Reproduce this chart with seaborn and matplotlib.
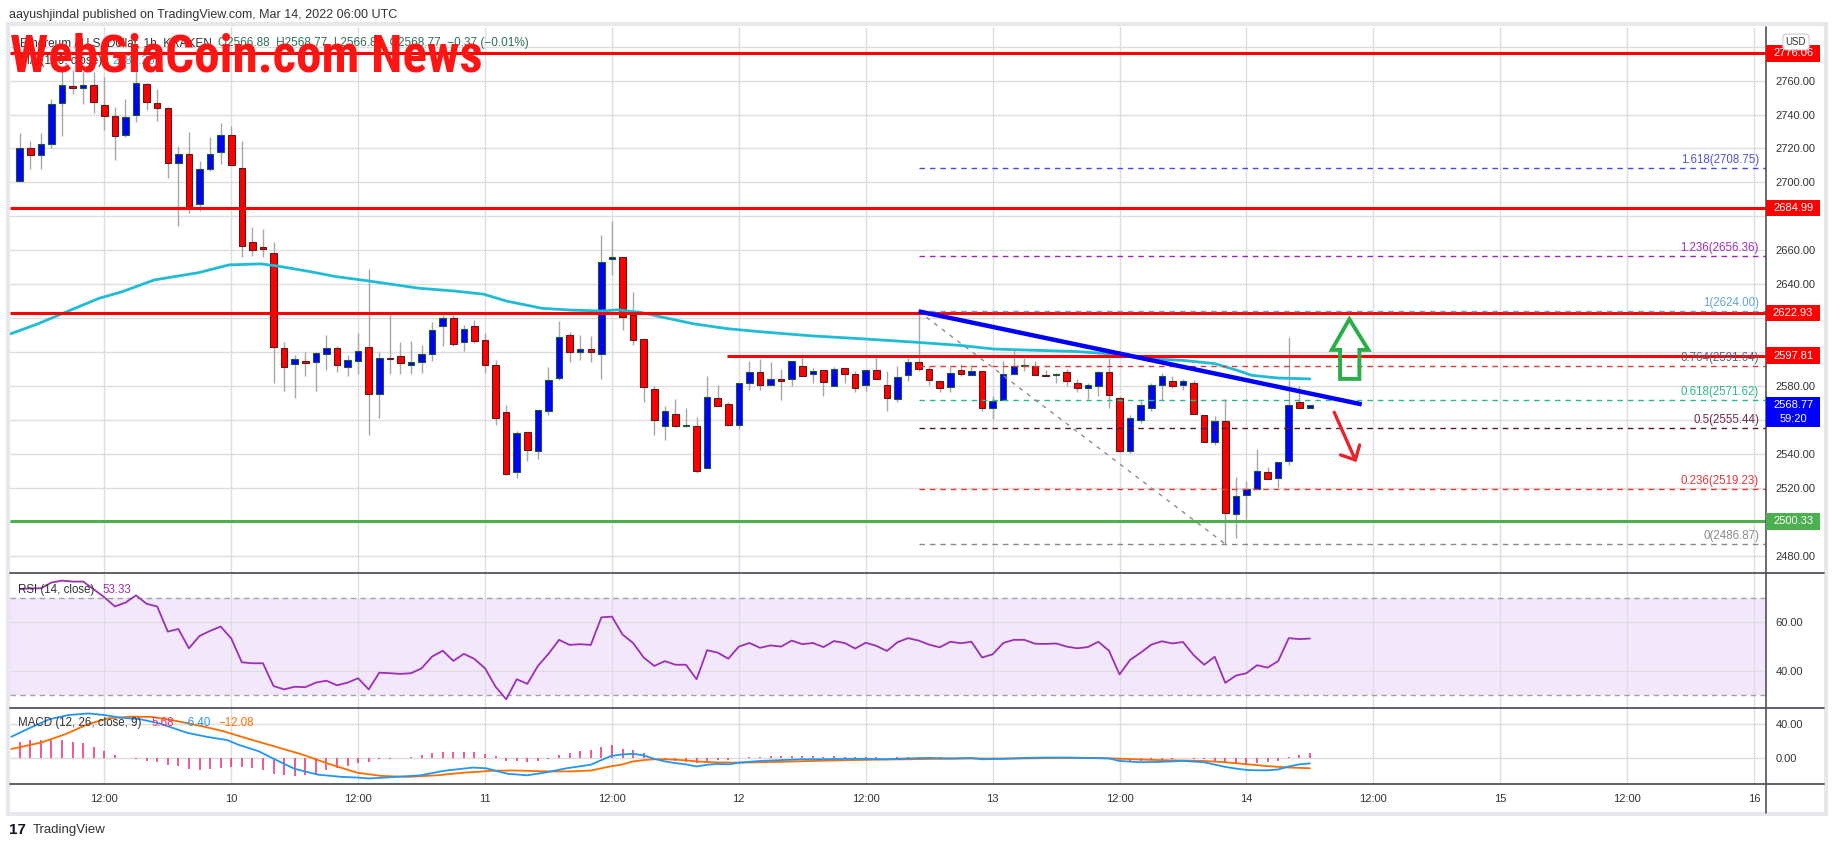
import numpy as np
import matplotlib
matplotlib.use("Agg")
import matplotlib.pyplot as plt
import matplotlib.patches as mpatches
import matplotlib.transforms as mtransforms
from matplotlib.lines import Line2D
from matplotlib.ticker import FixedFormatter
from matplotlib import font_manager
import seaborn as sns

# ETH/USD 1h candles, x = hours counted from 2022-03-09 00:00 UTC
hours = list(range(4, 127))
opens = [2700.6, 2720.4, 2716.1, 2722.4, 2746.7, 2756.9, 2755.9, 2757.6, 2745.9, 2739.4,
         2727.7, 2740.0, 2758.0, 2747.0, 2743.9, 2711.2, 2716.9, 2687.3, 2707.7, 2717.7,
         2728.2, 2708.6, 2664.7, 2661.8, 2658.3, 2602.4, 2593.0, 2595.0, 2594.2, 2598.9,
         2602.4, 2591.2, 2594.7, 2603.0, 2575.1, 2596.5, 2597.7, 2592.2, 2594.2, 2598.9,
         2615.3, 2620.0, 2605.9, 2615.3, 2607.1, 2592.4, 2564.8, 2529.5, 2553.0, 2541.6,
         2565.3, 2584.6, 2610.0, 2599.8, 2601.8, 2598.9, 2654.7, 2655.9, 2621.8, 2607.5,
         2578.3, 2556.5, 2563.6, 2556.5, 2556.5, 2531.8, 2573.0, 2569.5, 2556.9, 2581.8,
         2588.3, 2580.6, 2584.4, 2584.1, 2591.8, 2587.3, 2589.4, 2580.0, 2590.6, 2587.1,
         2580.6, 2589.4, 2580.6, 2572.4, 2586.3, 2594.1, 2590.0, 2583.0, 2579.4, 2589.4,
         2586.5, 2588.8, 2567.1, 2572.0, 2587.3, 2591.8, 2591.8, 2586.5, 2586.7, 2588.3,
         2581.6, 2578.9, 2580.2, 2588.3, 2573.2, 2541.8, 2559.7, 2567.1, 2580.4, 2583.0,
         2580.4, 2581.6, 2563.0, 2547.1, 2559.4, 2504.8, 2515.9, 2519.5, 2529.5, 2525.9,
         2535.7, 2570.4, 2566.88]
highs = [2729.0, 2724.7, 2729.0, 2749.2, 2766.0, 2766.0, 2765.9, 2764.9, 2762.0, 2744.3,
         2749.2, 2765.9, 2758.4, 2754.9, 2744.7, 2721.4, 2729.6, 2712.4, 2726.7, 2734.9,
         2733.5, 2724.3, 2673.8, 2672.8, 2664.9, 2605.9, 2598.5, 2599.8, 2600.0, 2610.2,
         2603.8, 2598.5, 2611.2, 2649.0, 2600.0, 2623.0, 2605.9, 2606.7, 2604.4, 2617.7,
         2622.0, 2621.6, 2616.1, 2618.9, 2611.0, 2595.5, 2569.1, 2553.4, 2553.0, 2566.0,
         2591.4, 2618.5, 2611.8, 2610.2, 2609.3, 2669.0, 2677.3, 2656.0, 2635.5, 2607.5,
         2579.9, 2568.3, 2572.4, 2567.1, 2561.6, 2586.1, 2580.8, 2570.6, 2581.8, 2595.0,
         2596.1, 2594.2, 2590.0, 2594.7, 2599.0, 2590.6, 2589.4, 2591.2, 2590.6, 2588.6,
         2589.4, 2597.5, 2588.6, 2591.6, 2596.5, 2624.0, 2591.6, 2583.0, 2591.6, 2593.1,
         2592.6, 2588.8, 2573.9, 2594.9, 2601.0, 2596.5, 2594.9, 2589.6, 2587.5, 2590.0,
         2584.0, 2581.6, 2589.0, 2596.7, 2574.0, 2563.0, 2571.0, 2582.0, 2587.7, 2585.9,
         2584.3, 2583.7, 2563.0, 2562.2, 2572.6, 2526.5, 2524.0, 2543.0, 2532.4, 2535.3,
         2608.8, 2579.8, 2568.77]
lows = [2700.0, 2708.0, 2708.0, 2720.4, 2727.3, 2752.2, 2746.3, 2740.8, 2730.6, 2713.4,
        2727.0, 2735.5, 2742.4, 2736.1, 2702.8, 2674.5, 2682.2, 2683.0, 2706.7, 2711.0,
        2710.0, 2656.1, 2656.5, 2656.0, 2581.8, 2576.9, 2572.8, 2585.7, 2576.9, 2589.7,
        2588.1, 2585.7, 2587.3, 2551.0, 2561.0, 2586.9, 2586.9, 2586.9, 2587.7, 2594.5,
        2603.4, 2603.4, 2600.8, 2605.5, 2587.7, 2557.3, 2527.3, 2526.0, 2535.8, 2536.7,
        2563.2, 2583.8, 2594.0, 2595.5, 2594.0, 2584.4, 2645.5, 2613.2, 2604.0, 2570.6,
        2551.0, 2548.1, 2555.7, 2555.7, 2528.5, 2531.8, 2568.3, 2556.3, 2554.6, 2577.9,
        2577.9, 2580.6, 2571.6, 2580.2, 2585.9, 2581.8, 2573.9, 2580.0, 2581.8, 2576.3,
        2576.9, 2584.1, 2565.1, 2570.4, 2583.2, 2589.0, 2580.8, 2576.3, 2576.3, 2585.7,
        2586.5, 2565.1, 2560.6, 2572.0, 2587.3, 2588.6, 2586.5, 2585.7, 2581.6, 2580.2,
        2576.5, 2572.2, 2574.0, 2567.3, 2541.2, 2540.5, 2558.0, 2565.0, 2572.0, 2578.7,
        2577.5, 2563.6, 2547.1, 2545.1, 2486.87, 2490.6, 2501.4, 2519.5, 2525.3, 2520.2,
        2533.4, 2566.5, 2566.88]
closes = [2720.4, 2716.1, 2722.4, 2746.3, 2757.6, 2755.9, 2757.6, 2747.3, 2739.4, 2727.1,
          2738.8, 2758.8, 2747.6, 2744.1, 2711.2, 2716.9, 2685.3, 2708.0, 2716.9, 2728.2,
          2710.0, 2662.4, 2660.0, 2660.6, 2603.0, 2591.2, 2595.9, 2593.6, 2599.4, 2602.4,
          2592.4, 2595.1, 2600.6, 2575.1, 2596.5, 2595.7, 2593.4, 2594.2, 2598.9, 2613.0,
          2620.0, 2604.7, 2613.6, 2606.3, 2592.4, 2561.0, 2527.9, 2552.4, 2542.2, 2565.6,
          2583.6, 2608.9, 2599.8, 2601.8, 2599.8, 2653.0, 2655.9, 2620.6, 2607.1, 2579.5,
          2560.0, 2565.3, 2556.5, 2556.5, 2530.0, 2573.6, 2568.3, 2556.9, 2581.8, 2588.3,
          2580.6, 2584.0, 2582.8, 2594.7, 2585.9, 2588.8, 2582.4, 2590.0, 2587.1, 2578.8,
          2589.4, 2584.1, 2573.0, 2585.3, 2594.1, 2589.8, 2583.5, 2578.8, 2587.7, 2587.1,
          2588.8, 2567.1, 2571.0, 2586.9, 2591.8, 2591.8, 2586.5, 2586.1, 2586.7, 2583.2,
          2578.9, 2580.6, 2588.3, 2574.8, 2541.8, 2561.4, 2569.1, 2580.6, 2585.9, 2580.0,
          2583.0, 2563.6, 2547.1, 2559.4, 2505.3, 2515.1, 2519.5, 2529.8, 2525.3, 2535.3,
          2568.9, 2567.2, 2568.77]

# MA(100)
ma_hours = [3.1, 5.7, 8.1, 11.5, 13.7, 16.7, 20.9, 23.8, 26.8, 28.3, 31.3, 33.9, 36.9, 41.8,
            45.1, 47.9, 50.0, 53.4, 56.0, 59.0, 60.5, 62.7, 65.2, 67.7, 70.9, 74.0, 78.8,
            84.0, 89.0, 93.0, 96.1, 101.4, 104.0, 108.0, 111.0, 114.0, 117.0, 119.0, 120.5,
            123.0, 126.0]
ma_values = [2610.7, 2616.6, 2622.9, 2631.7, 2635.6, 2642.5, 2646.8, 2651.4, 2652.0, 2650.8,
             2647.6, 2644.5, 2642.0, 2637.6, 2636.0, 2634.1, 2630.1, 2625.8, 2624.8, 2624.2,
             2624.9, 2623.4, 2620.0, 2616.7, 2613.8, 2612.0, 2609.6, 2607.7, 2605.7, 2603.9,
             2601.8, 2600.8, 2600.3, 2598.6, 2596.0, 2595.1, 2593.2, 2589.5, 2586.3, 2584.7,
             2584.2]

rsi = [73.8, 74.1, 74.1, 76.5, 77.3, 76.9, 76.9, 73.7, 70.4, 66.6,
       68.2, 71.2, 67.7, 66.6, 56.2, 57.3, 49.3, 54.4, 56.5, 58.3,
       53.4, 43.5, 43.1, 43.1, 33.7, 32.3, 33.4, 33.2, 35.1, 35.9,
       34.0, 35.1, 36.9, 32.3, 39.2, 39.0, 38.7, 39.0, 41.0, 45.9,
       48.3, 44.1, 47.0, 44.9, 41.0, 33.4, 28.2, 36.5, 34.6, 42.0,
       47.0, 52.8, 50.7, 51.0, 50.7, 62.1, 62.4, 55.0, 51.5, 45.5,
       42.0, 44.0, 42.5, 42.5, 36.5, 48.5, 47.5, 45.0, 50.0, 51.5,
       49.5, 50.5, 50.0, 52.5, 51.0, 51.5, 49.8, 52.3, 51.5, 49.2,
       51.6, 50.3, 48.2, 51.8, 53.5, 52.5, 50.8, 49.7, 52.0, 51.4,
       52.0, 45.5, 46.8, 51.5, 52.8, 52.8, 51.2, 51.1, 51.3, 50.0,
       49.3, 49.8, 52.0, 48.3, 38.5, 44.5, 47.5, 50.8, 52.2, 51.3,
       51.9, 46.5, 42.5, 45.8, 35.0, 38.0, 39.0, 42.3, 41.3, 44.0,
       53.5, 53.1, 53.33]

macd_hist = [19.2, 21.1, 21.1, 22.6, 21.1, 19.2, 17.3, 12.4, 7.9, 3.0,
             0.4, -1.5, -3.4, -4.5, -8.3, -9.8, -12.8, -13.6, -12.8, -11.3,
             -10.9, -10.9, -12.1, -13.9, -18.5, -20.4, -21.1, -20.4, -18.5, -14.7,
             -12.1, -9.0, -6.0, -4.5, -1.5, -0.8, 0.3, 0.8, 4.1, 6.0,
             7.5, 7.2, 7.5, 7.2, 4.9, 2.3, -3.0, -3.8, -5.3, -3.8,
             -0.8, 4.1, 6.0, 8.3, 9.8, 12.8, 15.5, 11.0, 9.0, 5.5,
             0.5, -2.5, -4.0, -4.7, -6.0, -3.2, -1.8, -2.0, 0.0, 1.0,
             1.5, 1.8, 2.0, 2.5, 2.3, 2.0, 1.7, 1.8, 1.6, 1.0,
             1.2, 0.8, 0.3, 0.8, 1.0, 1.0, 1.1, 0.6, 0.4, 0.5,
             0.6, -0.9, -0.6, -0.2, 0.4, 0.6, 0.7, 0.6, 0.5, 0.4,
             0.2, 0.0, 0.2, -0.5, -2.7, -3.5, -3.2, -2.4, -1.9, -1.2,
             -0.5, -0.8, -1.5, -3.0, -5.5, -6.7, -6.7, -6.0, -4.9, -3.0,
             1.2, 3.8, 5.68]
macd_hours = [3.2, 4.9, 6.8, 8.6, 10.5, 12.0, 13.5, 15.4, 17.2, 19.9, 21.7, 23.6, 24.7, 26.6,
              28.1, 30.0, 32.2, 34.4, 35.9, 37.0, 39.7, 41.9, 44.1, 46.8, 48.1, 50.1, 52.0,
              53.9, 55.7, 58.0, 59.9, 60.9, 62, 63, 64, 65, 66, 67, 68, 69, 70, 71, 72, 74,
              76, 78, 80, 82, 84, 86, 88, 90, 92, 94, 95, 97, 99, 101, 103, 105, 107, 108,
              110, 112, 114, 116, 118, 119, 120, 121, 122, 123, 124, 125, 126]
macd_line = [24.9, 35.0, 45.6, 50.5, 52.4, 50.5, 47.5, 45.6, 40.7, 29.4, 24.9, 21.1, 15.5, 7.9,
             -1.5, -12.8, -19.6, -22.2, -23.0, -24.1, -22.2, -20.4, -15.1, -11.3, -12.1, -18.5,
             -20.4, -16.6, -12.1, -7.9, 2.3, 4.1, 5.0, 3.0, -1.0, -4.0, -6.0, -7.5, -10.0,
             -8.0, -7.0, -7.5, -5.5, -3.5, -2.5, -1.5, -1.5, -1.0, -1.0, -1.5, -0.5, 0.0,
             -0.5, 0.0, -1.5, -1.0, 0.0, 0.5, 0.5, 0.0, -0.5, -3.5, -5.0, -4.5, -3.5, -5.0,
             -10.5, -12.5, -14.0, -14.5, -14.5, -13.5, -10.0, -7.5, -6.4]
signal_hours = [3.2, 6.0, 8.3, 10.5, 12.4, 14.6, 16.5, 18.4, 21.0, 23.2, 25.5, 28.1, 30.7,
                33.3, 35.9, 38.2, 40.8, 43.4, 46.0, 48.6, 50.9, 53.9, 56.1, 58.0, 59.9, 60.9,
                62, 63, 64, 65, 66, 67, 68, 69, 70, 72, 74, 76, 78, 80, 82, 84, 86, 88, 90,
                92, 94, 96, 98, 100, 102, 104, 106, 108, 110, 112, 114, 116, 118, 120, 122,
                124, 126]
signal_line = [10.6, 18.1, 27.9, 40.0, 46.7, 48.6, 48.3, 44.5, 38.1, 31.7, 23.0, 13.6, 4.1,
               -7.2, -17.3, -21.1, -22.2, -20.4, -17.3, -15.1, -14.7, -15.8, -15.8, -14.7,
               -9.8, -7.9, -4.0, -2.5, -1.5, -1.5, -2.0, -2.8, -4.0, -4.8, -5.2, -5.5, -5.0,
               -4.5, -3.8, -3.2, -2.6, -2.2, -1.8, -1.5, -1.1, -0.9, -0.6, -0.7, -0.6, -0.3,
               0.0, 0.1, 0.0, -0.8, -1.8, -2.6, -3.0, -3.5, -5.0, -7.3, -9.6, -11.2, -12.08]

# drawn levels
red_levels = [2776.06, 2684.99, 2622.93]
resistance_level = 2597.81
resistance_start = 70.9
support_level = 2500.33
last_price = 2568.77
fib_ratios = ["1.618", "1.236", "1", "0.764", "0.618", "0.5", "0.236", "0"]
fib_prices = [2708.75, 2656.36, 2624.00, 2591.64, 2571.62, 2555.44, 2519.23, 2486.87]
fib_colors = ["#4b4bd8", "#9c27b0", "#64a6d8", "#e53935", "#2bb88c", "#5c1738", "#e53935", "#8a8a8a"]
fib_label_colors = ["#5252d0", "#9c2fbe", "#64a6d8", "#55607e", "#2bb88c", "#6a2a4c", "#e0363c", "#8a8a8a"]
fib_start = 89
trend_h = [89, 130.9]
trend_p = [2624.0, 2569.2]
fib_diag_h = [89, 118]
fib_diag_p = [2624.0, 2486.87]
up_arrow_h = [129.73, 131.53, 130.68, 130.68, 128.85, 128.85, 128.07]
up_arrow_p = [2619.4, 2601.3, 2601.3, 2584.2, 2584.2, 2601.3, 2601.3]
down_arrow_h = [128.3, 130.3]
down_arrow_p = [2564.5, 2536.4]
down_head_h = [128.9, 130.3, 130.7]
down_head_p = [2539.4, 2536.4, 2545.3]

price_ticks = list(range(2480, 2781, 20))
hidden_price_ticks = [2780, 2680, 2620, 2600, 2560, 2500]   # covered by the scale boxes
tick_hours = list(range(12, 169, 12))
tick_labels = ["12:00", "10", "12:00", "11", "12:00", "12", "12:00", "13",
               "12:00", "14", "12:00", "15", "12:00", "16"]

sns.set_style("white")
plt.rcParams['font.family'] = ['Liberation Sans', 'DejaVu Sans']

W, H = 1834, 848
fig = plt.figure(figsize=(W / 100, H / 100), dpi=100)
fig.patch.set_facecolor("white")


def box(x0, y0, x1, y1):
    return [x0 / W, 1 - y1 / H, (x1 - x0) / W, (y1 - y0) / H]


def fx(x):
    return x / W


def fy(y):
    return 1 - y / H


ax = fig.add_axes(box(10, 27, 1766, 573))
ax_rsi = fig.add_axes(box(10, 573, 1766, 708), sharex=ax)
ax_macd = fig.add_axes(box(10, 708, 1766, 784), sharex=ax)

GRID = "#dedede"
XMIN, XMAX = 3.08, 169.13

for a in (ax, ax_rsi, ax_macd):
    a.set_facecolor("white")
    for s in a.spines.values():
        s.set_visible(False)
    a.set_axisbelow(True)
    a.grid(True, color=GRID, lw=1)
    a.yaxis.tick_right()
    a.tick_params(axis='y', length=0, pad=7, labelsize=8, labelcolor="#333333")
    a.tick_params(axis='x', length=0)
    a.set_xticks(tick_hours)

# ---- main pane: candles ----
hx = np.array(hours)
o = np.array(opens)
c = np.array(closes)
hi = np.array(highs)
lo = np.array(lows)
up = c >= o
body_lo = np.minimum(o, c)
body_h = np.maximum(np.abs(c - o), 0.5)

ax.vlines(hx, lo, hi, color="#a8a8a8", lw=1, zorder=3)
ax.bar(hx[up], body_h[up], bottom=body_lo[up], width=0.62, color="#0000ff",
       edgecolor="#1f5a2a", linewidth=0.8, zorder=4)
ax.bar(hx[~up], body_h[~up], bottom=body_lo[~up], width=0.62, color="#ff0000",
       edgecolor="#5a1c1c", linewidth=0.8, zorder=4)

sns.lineplot(x=ma_hours, y=ma_values, ax=ax, color="#1fbcd6", linewidth=2, zorder=5)

for lvl in red_levels:
    ax.hlines(lvl, XMIN, XMAX, color="#ff0000", lw=2.2, zorder=6)
ax.hlines(resistance_level, resistance_start, XMAX, color="#ff0000", lw=2.2, zorder=6)
ax.hlines(support_level, XMIN, XMAX, color="#4caf50", lw=2.2, zorder=6)

for p, col in zip(fib_prices, fib_colors):
    ax.hlines(p, fib_start, XMAX, color=col, lw=1, linestyles=(0, (4, 3.5)), zorder=6.5)
ax.plot(fib_diag_h, fib_diag_p, color="#8c8c8c", lw=1, ls=(0, (3, 4)), zorder=6.5)
ax.plot(trend_h, trend_p, color="#0000ff", lw=3.2, solid_capstyle='butt', zorder=7)

ax.add_patch(mpatches.Polygon(list(zip(up_arrow_h, up_arrow_p)), closed=True, fill=False,
                              edgecolor="#2aae48", lw=2.8, joinstyle='miter', zorder=8))
ax.plot(down_arrow_h, down_arrow_p, color="#e8232b", lw=2.4, solid_capstyle='round', zorder=8)
ax.plot(down_head_h, down_head_p, color="#e8232b", lw=2.4, solid_capstyle='round',
        solid_joinstyle='round', zorder=8)

ax.set_ylim(2469.8, 2791.6)
ax.set_yticks(price_ticks)
ax.yaxis.set_major_formatter(FixedFormatter(
    ["" if t in hidden_price_ticks else f"{t:.2f}" for t in price_ticks]))
ax.tick_params(axis='x', labelbottom=False)
ax.set_xlabel("")
ax.set_ylabel("")

# ---- RSI pane ----
ax_rsi.axhspan(30, 70, color="#f3e7fc", zorder=0.1, lw=0)
ax_rsi.axhline(70, color="#a3a3a3", lw=1, ls=(0, (4, 3)), zorder=1)
ax_rsi.axhline(30, color="#a3a3a3", lw=1, ls=(0, (4, 3)), zorder=1)
sns.lineplot(x=hours, y=rsi, ax=ax_rsi, color="#9b30b5", linewidth=1.3, zorder=3)
ax_rsi.set_ylim(24.6, 80.45)
ax_rsi.set_yticks([40, 60])
ax_rsi.yaxis.set_major_formatter(FixedFormatter(["40.00", "60.00"]))
ax_rsi.tick_params(axis='x', labelbottom=False)
ax_rsi.set_xlabel("")
ax_rsi.set_ylabel("")

# ---- MACD pane ----
ax_macd.vlines(hours, 0, macd_hist, color="#f5286c", lw=1.1, zorder=2)
sns.lineplot(x=signal_hours, y=signal_line, ax=ax_macd, color="#ff6d00", linewidth=1.3, zorder=3)
sns.lineplot(x=macd_hours, y=macd_line, ax=ax_macd, color="#2196f3", linewidth=1.3, zorder=4)
ax_macd.set_ylim(-30.6, 58.8)
ax_macd.set_yticks([0, 40])
ax_macd.yaxis.set_major_formatter(FixedFormatter(["0.00", "40.00"]))
ax_macd.set_xticklabels(tick_labels)
ax_macd.tick_params(axis='x', pad=7, labelsize=8, labelcolor="#333333")
ax_macd.set_xlabel("")
ax_macd.set_ylabel("")

ax.set_xlim(XMIN, XMAX)

# ---- frame, separators, price scale line ----
fig.add_artist(mpatches.Rectangle((fx(8), fy(814)), fx(1818), 790 / H, fill=False,
                                  edgecolor="#e6e8ee", lw=3, transform=fig.transFigure))
for ysep in (573, 708, 784):
    fig.add_artist(Line2D([fx(10), fx(1824)], [fy(ysep), fy(ysep)], color="#50535e", lw=1.3))
fig.add_artist(Line2D([fx(1766), fx(1766)], [fy(27), fy(813)], color="#50535e", lw=1.2))

# ---- price scale boxes ----
tr = mtransforms.blended_transform_factory(fig.transFigure, ax.transData)
for lvl, col in [(red_levels[0], "#ff0000"), (red_levels[1], "#ff0000"), (red_levels[2], "#ff0000"),
                 (resistance_level, "#ff0000"), (support_level, "#4caf50")]:
    fig.add_artist(mpatches.Rectangle((fx(1766), lvl - 4.9), fx(54), 9.8, transform=tr,
                                      facecolor=col, edgecolor='none', zorder=5))
    fig.text(fx(1793), lvl, f"{lvl:.2f}", transform=tr, ha='center', va='center',
             color='white', fontsize=8, zorder=6)
fig.add_artist(mpatches.Rectangle((fx(1766), last_price - 12.7), fx(54), 17.4, transform=tr,
                                  facecolor="#0000ff", edgecolor='none', zorder=5))
fig.text(fx(1793), last_price, f"{last_price:.2f}", transform=tr, ha='center', va='center',
         color='white', fontsize=8, zorder=6)
fig.text(fx(1793), last_price - 8.4, "59:20", transform=tr, ha='center', va='center',
         color='white', fontsize=8, zorder=6)
fig.text(fx(1796), fy(42), "USD", ha='center', va='center', fontsize=7, color="#333333", zorder=7,
         bbox=dict(boxstyle='round,pad=0.3,rounding_size=0.4', fc='white', ec='#c9ccd4', lw=0.8))

# fib labels
for r, p, col in zip(fib_ratios, fib_prices, fib_label_colors):
    fig.text(fx(1759), p + 1.2, f"{r}({p:.2f})", transform=tr, ha='right', va='bottom',
             color=col, fontsize=8.3, zorder=4)

# ---- texts ----
fig.text(fx(9), fy(15), "aayushjindal published on TradingView.com, Mar 14, 2022 06:00 UTC",
         ha='left', va='center', fontsize=9, color="#333333")
fig.text(fx(20), fy(43), "Ethereum / U.S. Dollar, 1h, KRAKEN", ha='left', va='center',
         fontsize=8.5, color="#333333", zorder=3)
fig.text(fx(218), fy(43), "O2566.88  H2568.77  L2566.88  C2568.77  \u22120.37 (\u22120.01%)",
         ha='left', va='center', fontsize=8.5, color="#2f6f55", zorder=3)
fig.text(fx(20), fy(61), "MA (100, close)", ha='left', va='center', fontsize=8.5,
         color="#333333", zorder=3)
fig.text(fx(112), fy(61), "2584.26", ha='left', va='center', fontsize=8.5,
         color="#1fbcd6", zorder=3)

fig.text(fx(18), fy(590), "RSI (14, close)", ha='left', va='center', fontsize=8.3, color="#333333")
fig.text(fx(102), fy(590), "53.33", ha='left', va='center', fontsize=8.3, color="#9b30b5")
fig.text(fx(18), fy(723), "MACD (12, 26, close, 9)", ha='left', va='center', fontsize=8.3,
         color="#333333")
fig.text(fx(151), fy(723), "5.68", ha='left', va='center', fontsize=8.3, color="#f5286c")
fig.text(fx(181), fy(723), "\u22126.40", ha='left', va='center', fontsize=8.3, color="#2196f3")
fig.text(fx(218), fy(723), "\u221212.08", ha='left', va='center', fontsize=8.3, color="#ff6d00")

fig.text(fx(9), fy(830), "17", ha='left', va='center', fontsize=11, fontweight='heavy',
         color="#131722")
fig.text(fx(33), fy(830), "TradingView", ha='left', va='center', fontsize=9.5, color="#333333")

# watermark: tall heavy letters, pick the narrowest installed family
installed = {f.name for f in font_manager.fontManager.ttflist}
wm_family = 'DejaVu Serif'
for cand in ['Liberation Sans Narrow', 'Roboto Condensed', 'Liberation Serif', 'DejaVu Serif']:
    if cand in installed:
        wm_family = cand
        break
wm = fig.text(fx(10), fy(72), "WebGiaCoin.com News", ha='left', va='baseline',
              color="#ff1414", fontsize=35, fontweight='bold', family=wm_family,
              fontstretch='condensed', zorder=30)
renderer = fig.canvas.get_renderer()
w = wm.get_window_extent(renderer).width
wm.set_fontsize(35 * 472 / w)

fig.savefig("out.png", dpi=100, facecolor="white")
